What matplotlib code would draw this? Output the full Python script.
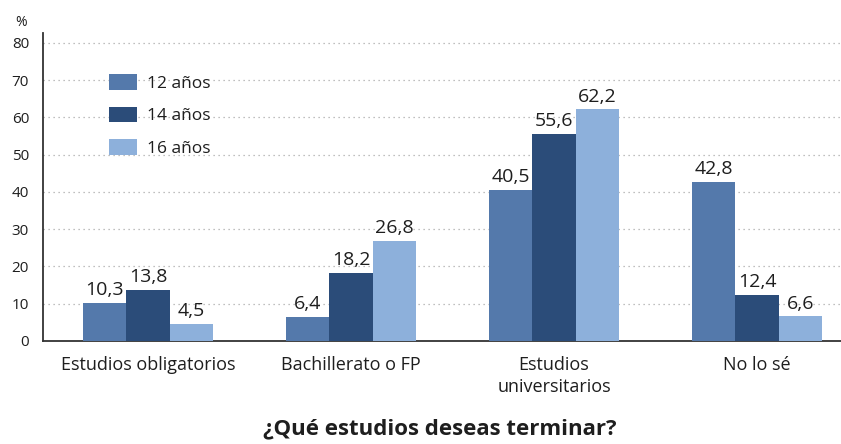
import numpy as np
import matplotlib.pyplot as plt

plt.rcParams['font.family'] = ['Open Sans', 'DejaVu Sans']

categories = ['Estudios obligatorios', 'Bachillerato o FP', 'Estudios\nuniversitarios', 'No lo sé']
series = ['12 años', '14 años', '16 años']
values_12 = [10.3, 6.4, 40.5, 42.8]
values_14 = [13.8, 18.2, 55.6, 12.4]
values_16 = [4.5, 26.8, 62.2, 6.6]
colors = ['#5479ab', '#2b4c79', '#8db0db']
ink = '#1e1e1e'

fig = plt.figure(figsize=(8.41, 4.44), dpi=100)
ax = fig.add_axes([0.0511, 0.232, 0.9489, 0.694])

x = np.arange(len(categories))
w = 0.213
for i, (vals, lab, c) in enumerate(zip([values_12, values_14, values_16], series, colors)):
    pos = x + (i - 1) * w
    ax.bar(pos, vals, width=w, color=c, label=lab, zorder=3)
    for px, v in zip(pos, vals):
        ax.text(px, v + 1.0, f'{v:.1f}'.replace('.', ','), ha='center', va='bottom',
                fontsize=14, color=ink, zorder=4)

ax.set_xlim(-0.517, 3.414)
ax.set_ylim(0, 82.7)
ax.set_yticks(range(0, 81, 10))
ax.tick_params(axis='y', length=0, labelsize=11, colors=ink, pad=10)
ax.tick_params(axis='x', length=0, labelsize=13, colors=ink, pad=11)
ax.set_xticks(x)
ax.set_xticklabels(categories, linespacing=1.25)
ax.yaxis.grid(True, linestyle=(0, (1, 3)), color='#aaaaaa', linewidth=0.9, zorder=0)
for s in ['top', 'right']:
    ax.spines[s].set_visible(False)
for s in ['left', 'bottom']:
    ax.spines[s].set_color('#333333')
    ax.spines[s].set_linewidth(1.3)

ax.text(-0.0276, 1.035, '%', transform=ax.transAxes, fontsize=10, color=ink,
        ha='center', va='center')

leg = ax.legend(loc='upper left', bbox_to_anchor=(0.083, 0.866), frameon=False, fontsize=12.5,
                handlelength=1.6, handleheight=1.0, labelspacing=0.85, handletextpad=0.6,
                borderpad=0, borderaxespad=0)
for t in leg.get_texts():
    t.set_color(ink)

fig.text(0.523, 0.033, '¿Qué estudios deseas terminar?', ha='center', va='center', fontsize=16,
         fontweight='bold', color=ink)

fig.savefig('out.png', dpi=100, facecolor='white')
